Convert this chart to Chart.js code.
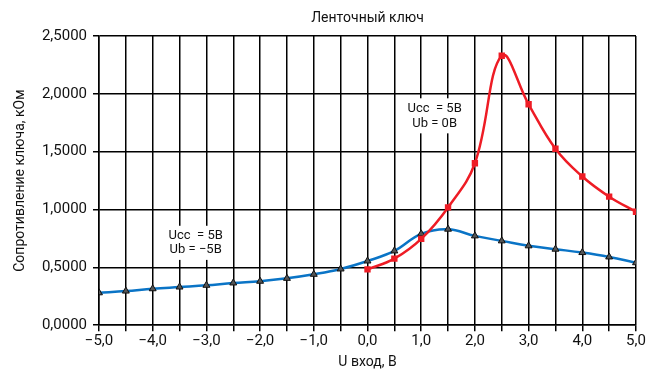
<!DOCTYPE html>
<html><head><meta charset="utf-8">
<script src="https://cdn.jsdelivr.net/npm/chart.js@4"></script>
<style>html,body{margin:0;padding:0;background:#fff}#wrap{width:647px;height:371px}</style>
</head><body><div id="wrap"><canvas id="c" width="647" height="371"></canvas></div>
<script>
const xValues = [-5,-4.5,-4,-3.5,-3,-2.5,-2,-1.5,-1,-0.5,0,0.5,1,1.5,2,2.5,3,3.5,4,4.5,5];
const blueValues = [0.28,0.295,0.315,0.33,0.345,0.365,0.38,0.405,0.44,0.486,0.555,0.642,0.79,0.83,0.772,0.729,0.686,0.657,0.628,0.59,0.54];
const redX = [0,0.5,1,1.5,2,2.5,3,3.5,4,4.5,5];
const redValues = [0.483,0.575,0.746,1.018,1.40,2.329,1.91,1.525,1.285,1.111,0.981];
const titleText = 'Ленточный ключ';
const yTitle = 'Сопротивление ключа, кОм';
const xTitle = 'U вход, В';
const notes = [
  {x:-3.2, lines:['Ucc  = 5В','Ub = −5В'], y:[0.773,0.651]},
  {x:1.25, lines:['Ucc  = 5В','Ub = 0В'], y:[1.875,1.745]}
];
const FONT = 'Roboto, "Noto Sans", sans-serif';
const fmtX = v => Math.abs(v - Math.round(v)) < 1e-6 ? (v < 0 ? '−' : '') + Math.abs(v).toFixed(1).replace('.', ',') : '';
const fmtY = v => v.toFixed(4).replace('.', ',');

const extra = {
  id: 'extra',
  afterDatasetsDraw(chart) {
    const ctx = chart.ctx, xs = chart.scales.x, ys = chart.scales.y, ca = chart.chartArea;
    ctx.save();
    ctx.fillStyle = '#111';
    ctx.font = '14px ' + FONT;
    ctx.textAlign = 'center';
    ctx.textBaseline = 'middle';
    ctx.fillText(titleText, (ca.left + ca.right) / 2, 18);
    notes.forEach(n => {
      const px = xs.getPixelForValue(n.x);
      const py = n.y.map(v => ys.getPixelForValue(v));
      ctx.font = '13px ' + FONT;
      const w = Math.max(...n.lines.map(l => ctx.measureText(l).width)) + 10;
      ctx.fillStyle = '#fff';
      ctx.fillRect(px - w / 2, py[0] - 10, w, py[1] - py[0] + 20);
      ctx.fillStyle = '#111';
      n.lines.forEach((l, i) => ctx.fillText(l, px, py[i]));
    });
    ctx.restore();
  }
};

new Chart(document.getElementById('c'), {
  type: 'line',
  data: {
    datasets: [
      {
        data: redX.map((x, i) => ({x, y: redValues[i]})),
        borderColor: '#ee1c25', backgroundColor: '#ee1c25', borderWidth: 2.5,
        pointStyle: 'rect', pointRadius: 4.5, pointBorderWidth: 0,
        tension: 0.4, order: 0
      },
      {
        data: xValues.map((x, i) => ({x, y: blueValues[i]})),
        borderColor: '#0a74c6', backgroundColor: '#555', pointBorderColor: '#111', borderWidth: 2.5,
        pointStyle: 'triangle', pointRadius: 4, pointBorderWidth: 1,
        tension: 0.4, order: 1
      }
    ]
  },
  options: {
    responsive: false, animation: false,
    layout: {padding: {top: 36, right: 11, left: 12, bottom: 0}},
    plugins: {legend: {display: false}, tooltip: {enabled: false}, title: {display: false}},
    scales: {
      x: {
        type: 'linear', min: -5, max: 5,
        grid: {color: '#000', lineWidth: 1.5, tickLength: 6, drawTicks: true},
        border: {color: '#000', width: 1.5},
        ticks: {stepSize: 0.5, autoSkip: false, maxRotation: 0, callback: fmtX, color: '#111', font: {family: FONT, size: 15}, padding: 1},
        title: {display: true, text: xTitle, color: '#111', font: {family: FONT, size: 14}, padding: {top: 3, bottom: 0}}
      },
      y: {
        min: 0, max: 2.5,
        grid: {color: '#000', lineWidth: 1.5, tickLength: 6},
        border: {color: '#000', width: 1.5},
        ticks: {stepSize: 0.5, callback: fmtY, color: '#111', font: {family: FONT, size: 15}, padding: 6},
        title: {display: true, text: yTitle, color: '#111', font: {family: FONT, size: 14}, padding: {top: 0, bottom: 6}},
        afterFit(s) { s.width = 87; }
      }
    }
  },
  plugins: [extra]
});
</script></body></html>
